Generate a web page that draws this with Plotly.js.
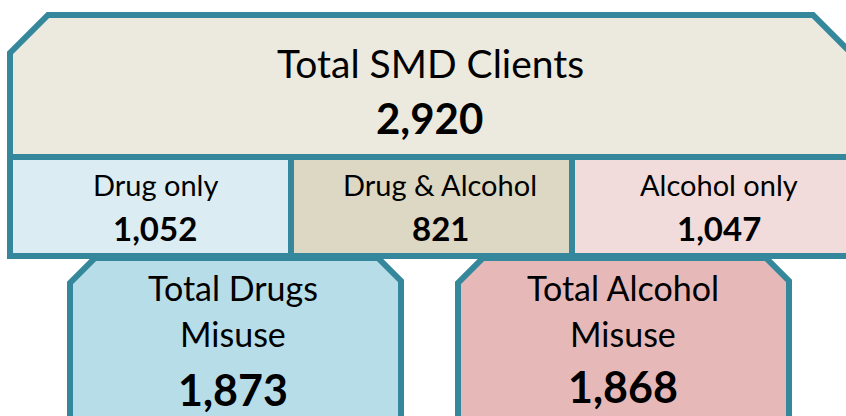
<!DOCTYPE html>
<html>
<head>
<meta charset="utf-8">
<script src="https://cdn.plot.ly/plotly-3.0.1.min.js"></script>
<style>html,body{margin:0;padding:0;background:#fff;}#chart{width:846px;height:416px;}</style>
</head>
<body>
<div id="chart"></div>
<script>
// ---- data ----
const totalLabel = 'Total SMD Clients';
const totalValue = 2920;
const cellLabels = ['Drug only', 'Drug & Alcohol', 'Alcohol only'];
const cellValues = [1052, 821, 1047];
const groupLabels = [['Total Drugs', 'Misuse'], ['Total Alcohol', 'Misuse']];
const groupValues = [1873, 1868];

// ---- styling / geometry ----
const FONT = 'Lato, "Open Sans", sans-serif';
const BORDER = '#35879b';
const LW = 6;
const fmt = v => v.toLocaleString('en-US');

const cellFill = ['#dbedf3', '#ddd8c3', '#f2dcdb'];
const groupFill = ['#b7dde8', '#e6b9b8'];
const cellX = [[10, 291], [291, 572], [572, 852]];
const cellTextX = [155, 440, 719];
const groupBox = [[70, 401], [458, 789]];
const groupTextX = [233, 623];
const groupValueY = [389, 386];

const shapes = [];
const annotations = [];

// lower boxes (drawn first so frame covers their top)
groupBox.forEach((b, i) => {
  const [l, r] = b;
  shapes.push({
    type: 'path', xref: 'x', yref: 'y',
    path: `M${l},430 L${l},283 L${l + 25},258 L${r - 23},258 L${r},281 L${r},430 Z`,
    fillcolor: groupFill[i], line: {color: BORDER, width: LW}
  });
});

// top frame
shapes.push({
  type: 'path', xref: 'x', yref: 'y',
  path: 'M10,157 L10,53 L48,15 L813,15 L851,53 L851,157 Z',
  fillcolor: '#ece9df', line: {color: BORDER, width: LW}
});
// cells
cellX.forEach((c, i) => {
  shapes.push({
    type: 'rect', xref: 'x', yref: 'y', x0: c[0], x1: c[1], y0: 157, y1: 256,
    fillcolor: cellFill[i], line: {color: BORDER, width: LW}
  });
});

// text
function ann(text, x, y, size, bold) {
  annotations.push({
    text: bold ? '<b>' + text + '</b>' : text,
    x: x, y: y, xref: 'x', yref: 'y', showarrow: false,
    xanchor: 'center', yanchor: 'middle',
    font: {family: FONT, size: size, color: '#000'}
  });
}
ann(totalLabel, 430, 63, 39, false);
ann(fmt(totalValue), 429, 118, 42, true);
cellLabels.forEach((t, i) => {
  ann(t, cellTextX[i], 184, 29, false);
  ann(fmt(cellValues[i]), cellTextX[i], 228, 33, true);
});
groupLabels.forEach((lines, i) => {
  ann(lines[0], groupTextX[i], 287, 34, false);
  ann(lines[1], groupTextX[i], 333, 34, false);
  ann(fmt(groupValues[i]), groupTextX[i], groupValueY[i], 43, true);
});

const layout = {
  width: 846, height: 416,
  margin: {l: 0, r: 0, t: 0, b: 0},
  paper_bgcolor: '#ffffff', plot_bgcolor: '#ffffff',
  showlegend: false,
  xaxis: {range: [0, 846], visible: false, fixedrange: true},
  yaxis: {range: [416, 0], visible: false, fixedrange: true},
  shapes: shapes,
  annotations: annotations
};

Plotly.newPlot('chart', [{x: [], y: [], type: 'scatter', hoverinfo: 'skip'}], layout, {staticPlot: true, displayModeBar: false});
</script>
</body>
</html>
